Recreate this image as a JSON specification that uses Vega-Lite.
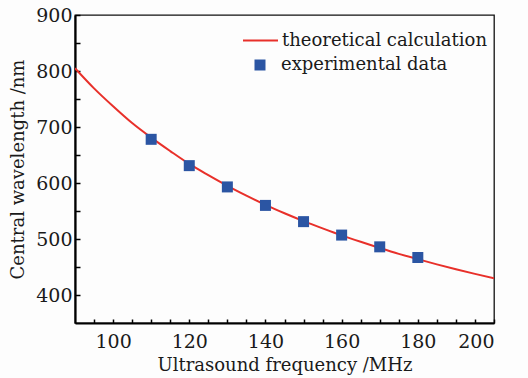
{
  "$schema": "https://vega.github.io/schema/vega-lite/v6.json",
  "autosize": "none",
  "padding": {"left": 75, "top": 15, "right": 34, "bottom": 55},
  "width": 419,
  "height": 308,
  "background": "#fdfdfd",
  "config": {
    "view": {"stroke": "#111", "strokeWidth": 1.3},
    "font": "DejaVu Serif",
    "axis": {"labelFont": "DejaVu Serif", "titleFont": "DejaVu Serif", "labelColor": "#1a1a1a", "titleColor": "#1a1a1a", "titleFontWeight": "normal", "domainColor": "#000", "domainWidth": 2.2, "tickColor": "#000", "tickWidth": 1.5, "grid": false},
    "legend": {"labelFont": "DejaVu Serif", "labelFontSize": 18, "labelColor": "#1a1a1a", "labelLimit": 400, "padding": 0}
  },
  "datasets": {
    "curve": [
      {"f": 90, "w": 805, "series": "theoretical calculation"},
      {"f": 95, "w": 769, "series": "theoretical calculation"},
      {"f": 100, "w": 737, "series": "theoretical calculation"},
      {"f": 105, "w": 707, "series": "theoretical calculation"},
      {"f": 110, "w": 681, "series": "theoretical calculation"},
      {"f": 115, "w": 657, "series": "theoretical calculation"},
      {"f": 120, "w": 634, "series": "theoretical calculation"},
      {"f": 125, "w": 614, "series": "theoretical calculation"},
      {"f": 130, "w": 595, "series": "theoretical calculation"},
      {"f": 135, "w": 577.5, "series": "theoretical calculation"},
      {"f": 140, "w": 561, "series": "theoretical calculation"},
      {"f": 145, "w": 546, "series": "theoretical calculation"},
      {"f": 150, "w": 532, "series": "theoretical calculation"},
      {"f": 155, "w": 519, "series": "theoretical calculation"},
      {"f": 160, "w": 506.5, "series": "theoretical calculation"},
      {"f": 165, "w": 495, "series": "theoretical calculation"},
      {"f": 170, "w": 484, "series": "theoretical calculation"},
      {"f": 175, "w": 473.5, "series": "theoretical calculation"},
      {"f": 180, "w": 464, "series": "theoretical calculation"},
      {"f": 185, "w": 454.7, "series": "theoretical calculation"},
      {"f": 190, "w": 446, "series": "theoretical calculation"},
      {"f": 195, "w": 437.7, "series": "theoretical calculation"},
      {"f": 200, "w": 430, "series": "theoretical calculation"}
    ],
    "exp": [
      {"f": 110, "w": 678, "series": "experimental data"},
      {"f": 120, "w": 631, "series": "experimental data"},
      {"f": 130, "w": 593, "series": "experimental data"},
      {"f": 140, "w": 560, "series": "experimental data"},
      {"f": 150, "w": 531, "series": "experimental data"},
      {"f": 160, "w": 507, "series": "experimental data"},
      {"f": 170, "w": 486, "series": "experimental data"},
      {"f": 180, "w": 467, "series": "experimental data"}
    ]
  },
  "encoding": {
    "x": {
      "field": "f", "type": "quantitative",
      "scale": {"domain": [90, 200], "nice": false, "zero": false},
      "axis": {
        "title": "Ultrasound frequency /MHz", "titleFontSize": 18, "titlePadding": 5,
        "values": [95, 100, 105, 110, 115, 120, 125, 130, 135, 140, 145, 150, 155, 160, 165, 170, 175, 180, 185, 190, 195, 200],
        "labelExpr": "datum.value % 20 === 0 ? datum.label : ''",
        "labelFontSize": 19, "labelPadding": 13, "tickSize": -4
      }
    },
    "y": {
      "field": "w", "type": "quantitative",
      "scale": {"domain": [350, 900], "nice": false, "zero": false},
      "axis": {
        "title": "Central wavelength /nm", "titleFontSize": 18, "titlePadding": 8,
        "values": [400, 450, 500, 550, 600, 650, 700, 750, 800, 850, 900],
        "labelExpr": "datum.value % 100 === 0 ? datum.label : ''",
        "labelFontSize": 19, "labelPadding": 8, "tickSize": -5
      }
    }
  },
  "layer": [
    {
      "data": {"name": "curve"},
      "mark": {"type": "line", "strokeWidth": 2, "clip": true, "interpolate": "monotone"},
      "encoding": {
        "color": {
          "field": "series", "type": "nominal",
          "scale": {"domain": ["theoretical calculation"], "range": ["#e8302a"]},
          "legend": {
            "orient": "none", "legendX": 167, "legendY": 7, "title": null,
            "labelOffset": 3, "symbolType": "stroke", "symbolSize": 1225, "symbolStrokeWidth": 2
          }
        }
      }
    },
    {
      "data": {"name": "exp"},
      "mark": {"type": "point", "size": 121, "opacity": 1, "filled": true, "color": "#2b55a3"},
      "encoding": {
        "shape": {
          "field": "series", "type": "nominal",
          "scale": {"domain": ["experimental data"], "range": ["square"]},
          "legend": {
            "orient": "none", "legendX": 176, "legendY": 41, "title": null,
            "labelOffset": 12, "symbolSize": 121, "symbolFillColor": "#2b55a3", "symbolStrokeWidth": 0, "symbolOpacity": 1
          }
        }
      }
    }
  ]
}
